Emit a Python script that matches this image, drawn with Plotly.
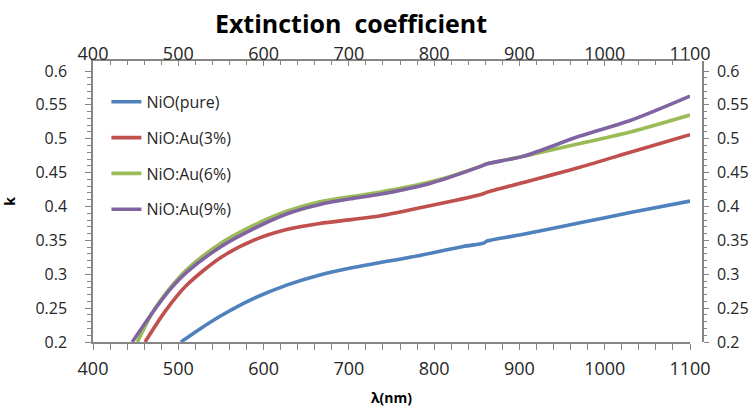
import plotly.graph_objects as go

# wavelength (nm) / extinction coefficient k readings
wl_pure = [503, 525, 549, 588, 627, 666, 705, 736, 780, 834, 858, 862, 900, 971, 1030, 1100]
k_pure = [0.200, 0.219, 0.238, 0.264, 0.284, 0.299, 0.310, 0.317, 0.327, 0.341, 0.346, 0.349, 0.358, 0.376, 0.391, 0.408]

wl_au3 = [461, 485, 510, 549, 588, 627, 666, 705, 736, 795, 856, 862, 900, 971, 1030, 1100]
k_au3 = [0.200, 0.246, 0.284, 0.324, 0.350, 0.366, 0.375, 0.381, 0.386, 0.401, 0.418, 0.421, 0.434, 0.458, 0.480, 0.506]

wl_au6 = [452, 470, 490, 510, 549, 588, 627, 666, 705, 736, 795, 856, 862, 904, 971, 1030, 1100]
k_au6 = [0.200, 0.244, 0.279, 0.307, 0.345, 0.372, 0.393, 0.407, 0.415, 0.421, 0.436, 0.460, 0.463, 0.474, 0.493, 0.510, 0.535]

wl_au9 = [446, 470, 490, 510, 549, 588, 627, 666, 705, 736, 795, 856, 862, 904, 971, 1030, 1100]
k_au9 = [0.200, 0.244, 0.277, 0.303, 0.340, 0.367, 0.389, 0.403, 0.412, 0.418, 0.434, 0.460, 0.463, 0.474, 0.504, 0.527, 0.563]

names = ["NiO(pure)", "NiO:Au(3%)", "NiO:Au(6%)", "NiO:Au(9%)"]
colors = ["#4F81BD", "#C0504D", "#9BBB59", "#8064A2"]
series = [(wl_pure, k_pure), (wl_au3, k_au3), (wl_au6, k_au6), (wl_au9, k_au9)]

x_range = [400, 1100]
x_ticks = [400, 500, 600, 700, 800, 900, 1000, 1100]
y_ticks = [0.2, 0.25, 0.3, 0.35, 0.4, 0.45, 0.5, 0.55, 0.6]
y_labels = ["0.2", "0.25", "0.3", "0.35", "0.4", "0.45", "0.5", "0.55", "0.6"]

FONT = "Open Sans"
TXT = "#262626"
AX = "#868686"

fig = go.Figure()
for i, ((x, y), n, c) in enumerate(zip(series, names, colors)):
    fig.add_trace(go.Scatter(x=x, y=y, name=n, mode="lines",
                             line=dict(color=c, width=3.6, shape="spline", smoothing=0.8),
                             legendgroup=f"g{i}"))
# carrier for secondary (top / right) axes
fig.add_trace(go.Scatter(x=wl_pure, y=k_pure, xaxis="x2", yaxis="y2", mode="lines",
                         line=dict(width=0), opacity=0, showlegend=False, hoverinfo="skip"))

dom_right = (690 - 93) / (703 - 93)
y_top = 0.6 + 10 / 677.5
minor_y = [round(0.2 + 0.01 * i, 2) for i in range(41)]

fig.update_layout(
    width=756, height=407,
    margin=dict(l=93, r=53, t=61, b=65, autoexpand=False),
    paper_bgcolor="white", plot_bgcolor="white",
    font=dict(family=FONT, color=TXT, size=16),
    title=dict(text="<b>Extinction  coefficient</b>", x=(351 - 93) / 610, xref="paper", y=1 - 24 / 407,
               yref="container", xanchor="center", yanchor="middle", automargin=False,
               font=dict(size=25, color="#000000", family=FONT)),
    showlegend=True,
    legend=dict(x=0.022, y=0.915, xanchor="left", yanchor="top", bgcolor="rgba(0,0,0,0)",
                font=dict(size=16, color=TXT, family=FONT), tracegroupgap=12, itemwidth=30),
    xaxis=dict(domain=[0, dom_right], range=x_range, tickvals=x_ticks, showgrid=False, zeroline=False,
               automargin=False,
               showline=True, linecolor=AX, linewidth=1.5, ticks="outside", ticklen=6, tickcolor=AX,
               minor=dict(dtick=20, ticks="outside", ticklen=6, tickcolor=AX),
               title=dict(text="<b>λ(nm)</b>", font=dict(size=14, color="#000000"), standoff=18),
               tickfont=dict(size=18), ticklabelstandoff=4),
    xaxis2=dict(overlaying="x", side="top", anchor="y", range=x_range, tickvals=x_ticks, showgrid=False,
                zeroline=False, automargin=False,
                showline=True, linecolor=AX, linewidth=1.5, ticks="inside", ticklen=5,
                tickcolor=AX, minor=dict(dtick=20, ticks="inside", ticklen=4, tickcolor=AX),
                tickfont=dict(size=18), ticklabelstandoff=-8),
    yaxis=dict(range=[0.2, y_top], tickvals=y_ticks, ticktext=y_labels, showgrid=False, zeroline=False,
               automargin=False,
               showline=True, linecolor=AX, linewidth=1.5, ticks="outside", ticklen=6, tickcolor=AX,
               minor=dict(tickvals=minor_y, ticks="outside", ticklen=4, tickcolor=AX),
               title=dict(text="<b>k</b>", font=dict(size=14, color="#000000"), standoff=22),
               tickfont=dict(size=16), ticklabelstandoff=15),
    yaxis2=dict(overlaying="y", side="right", anchor="free", position=1.0, range=[0.2, y_top], tickvals=y_ticks,
                ticktext=y_labels, showgrid=False, zeroline=False, showline=True, linecolor=AX, linewidth=1.5,
                automargin=False,
                ticks="outside", ticklen=5, tickcolor=AX,
                minor=dict(tickvals=minor_y, ticks="outside", ticklen=3, tickcolor=AX),
                tickfont=dict(size=16), ticklabelstandoff=5),
)

fig.write_html("out.html")
